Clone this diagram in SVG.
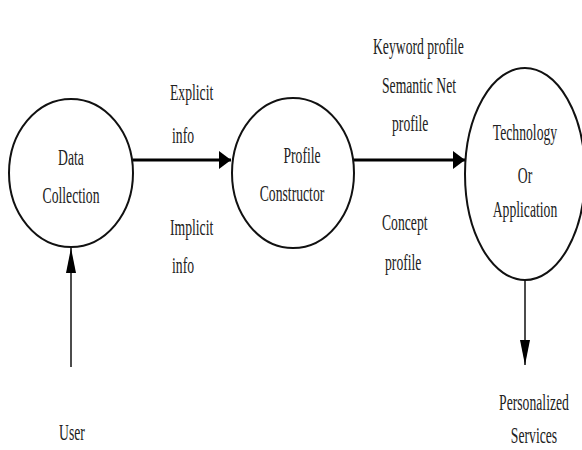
<svg xmlns="http://www.w3.org/2000/svg" width="582" height="450" viewBox="0 0 582 450">
<defs>
<style>
text{font-family:"Liberation Serif","Times New Roman","DejaVu Serif",serif;font-size:24px;fill:#222}
.c{text-anchor:middle}
.s{text-anchor:start}
.node{fill:#fff;stroke:#111;stroke-width:2}
.thick{stroke:#000;stroke-width:3;fill:none}
.thin{stroke:#111;stroke-width:1.5;fill:none}
</style>
<marker id="ah" markerUnits="userSpaceOnUse" markerWidth="14" markerHeight="20" viewBox="0 -10 14 20" refX="12" refY="0" orient="auto">
<path d="M0,-9 L12,0 L0,9 z" fill="#000"/>
</marker>
<marker id="av" markerUnits="userSpaceOnUse" markerWidth="28" markerHeight="12" viewBox="0 -6 28 12" refX="25" refY="0" orient="auto">
<path d="M0,-5 L25,0 L0,5 z" fill="#000"/>
</marker>
</defs>
<rect width="582" height="450" fill="#fff"/>
<g id="connectors">
<line class="thick" x1="133" y1="160" x2="231" y2="160" marker-end="url(#ah)"/>
<line class="thick" x1="354" y1="160" x2="465" y2="160" marker-end="url(#ah)"/>
<line class="thin" x1="525" y1="280" x2="525" y2="365" marker-end="url(#av)"/>
<line class="thin" x1="71" y1="367" x2="71" y2="248" marker-end="url(#av)"/>
</g>
<g id="data-collection">
<ellipse class="node" cx="71" cy="173" rx="62" ry="74"/>
<text class="c" transform="translate(71,165) scale(0.57,1)">Data</text>
<text class="c" transform="translate(71,203) scale(0.57,1)">Collection</text>
</g>
<g id="profile-constructor">
<ellipse class="node" cx="293" cy="173" rx="61" ry="75"/>
<text class="c" transform="translate(302,163) scale(0.57,1)">Profile</text>
<text class="c" transform="translate(292,201) scale(0.57,1)">Constructor</text>
</g>
<g id="technology">
<ellipse class="node" cx="525" cy="174" rx="60" ry="106"/>
<text class="c" transform="translate(525,140) scale(0.57,1)">Technology</text>
<text class="c" transform="translate(525,183) scale(0.57,1)">Or</text>
<text class="c" transform="translate(525,217) scale(0.57,1)">Application</text>
</g>
<g id="user">
<text class="c" transform="translate(72,440) scale(0.57,1)">User</text>
</g>
<g id="personalized-services">
<text class="c" transform="translate(534,410) scale(0.57,1)">Personalized</text>
<text class="c" transform="translate(534,443) scale(0.57,1)">Services</text>
</g>
<g id="labels">
<text class="s" transform="translate(170,100) scale(0.57,1)">Explicit</text>
<text class="s" transform="translate(172,143) scale(0.57,1)">info</text>
<text class="s" transform="translate(170,235) scale(0.57,1)">Implicit</text>
<text class="s" transform="translate(172,273) scale(0.57,1)">info</text>
<text class="s" transform="translate(373,54) scale(0.57,1)">Keyword profile</text>
<text class="s" transform="translate(382,93) scale(0.57,1)">Semantic Net</text>
<text class="s" transform="translate(392,131) scale(0.57,1)">profile</text>
<text class="s" transform="translate(382,230) scale(0.57,1)">Concept</text>
<text class="s" transform="translate(385,270) scale(0.57,1)">profile</text>
</g>
</svg>
